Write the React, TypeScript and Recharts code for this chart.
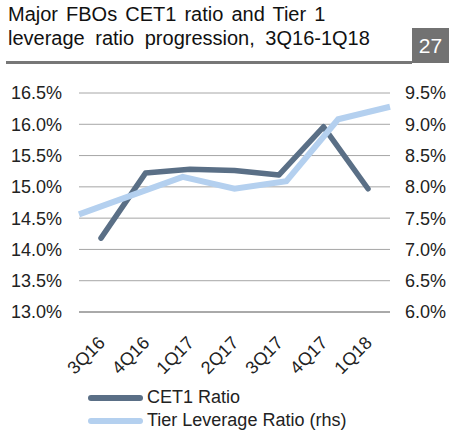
import React from 'react';
import { LineChart, Line, XAxis, YAxis, CartesianGrid } from 'recharts';

const categories = ['3Q16', '4Q16', '1Q17', '2Q17', '3Q17', '4Q17', '1Q18'];
const cet1Ratio = [14.18, 15.22, 15.28, 15.26, 15.19, 15.96, 14.97];
const tierLeverage = [7.56, 7.86, 8.16, 7.97, 8.09, 9.08, 9.28];
const leftTicks = [13, 13.5, 14, 14.5, 15, 15.5, 16, 16.5];
const rightTicks = [6, 6.5, 7, 7.5, 8, 8.5, 9, 9.5];
const seriesNames = ['CET1 Ratio', 'Tier Leverage Ratio (rhs)'];

const data = categories.map((c, i) => ({ cat: c, cet1: cet1Ratio[i], tier: tierLeverage[i] }));

const DARK = '#5a6f86';
const LIGHT = '#b4d0ef';
const seriesColors = [DARK, LIGHT];
const FONT = '"Liberation Sans", Arial, sans-serif';

const XTick = (props: any) => {
  const { x, y, payload } = props;
  const ax = x + 5;
  const ay = y + 24;
  return (
    <text
      x={ax}
      y={ay}
      transform={`rotate(-45 ${ax} ${ay})`}
      textAnchor="end"
      fontSize={18}
      fontFamily={FONT}
      fill="#222"
    >
      {payload.value}
    </text>
  );
};

export default function App() {
  return (
    <div style={{ position: 'absolute', left: 0, top: 0, width: 449, height: 432, background: '#fff', fontFamily: FONT }}>
      <div style={{ position: 'absolute', left: 8, top: 3, fontSize: 20, lineHeight: '23.5px', color: '#111', whiteSpace: 'nowrap' }}>
        <div style={{ wordSpacing: 2.5 }}>Major FBOs CET1 ratio and Tier 1</div>
        <div style={{ wordSpacing: 5 }}>leverage ratio progression, 3Q16-1Q18</div>
      </div>
      <div style={{ position: 'absolute', left: 6, top: 61, width: 406, height: 3, background: '#777' }} />
      <div
        style={{
          position: 'absolute', left: 412, top: 28, width: 37, height: 35, background: '#727272',
          color: '#fff', fontSize: 21, display: 'flex', alignItems: 'center', justifyContent: 'center',
        }}
      >
        27
      </div>
      <LineChart
        width={449}
        height={432}
        data={data}
        margin={{ top: 93, right: 0, bottom: 0, left: 0 }}
        style={{ position: 'absolute', left: 0, top: 0 }}
      >
        <CartesianGrid xAxisId="cat" yAxisId="left" vertical={false} stroke="#a6a6a6" />
        <XAxis
          xAxisId="cat"
          dataKey="cat"
          padding={{ left: 22, right: 22 }}
          tickLine={false}
          axisLine={{ stroke: '#808080' }}
          interval={0}
          tick={<XTick />}
          height={120}
        />
        <XAxis xAxisId="edge" dataKey="cat" hide />
        <YAxis
          yAxisId="left"
          orientation="left"
          width={79}
          domain={[13, 16.5]}
          ticks={leftTicks}
          tickFormatter={(v: number) => v.toFixed(1) + '%'}
          tickLine={false}
          axisLine={false}
          tickMargin={11}
          tick={{ fontSize: 18, fill: '#222', fontFamily: FONT }}
        />
        <YAxis
          yAxisId="right"
          orientation="right"
          width={59}
          domain={[6, 9.5]}
          ticks={rightTicks}
          tickFormatter={(v: number) => v.toFixed(1) + '%'}
          tickLine={false}
          axisLine={false}
          tickMargin={9}
          tick={{ fontSize: 18, fill: '#222', fontFamily: FONT, textAnchor: 'start' }}
        />
        <Line
          xAxisId="cat"
          yAxisId="left"
          dataKey="cet1"
          name={seriesNames[0]}
          stroke={DARK}
          strokeWidth={5.5}
          strokeLinecap="round"
          strokeLinejoin="round"
          dot={false}
          activeDot={false}
          isAnimationActive={false}
          type="linear"
        />
        <Line
          xAxisId="edge"
          yAxisId="right"
          dataKey="tier"
          name={seriesNames[1]}
          stroke={LIGHT}
          strokeWidth={6}
          strokeLinejoin="miter"
          dot={false}
          activeDot={false}
          isAnimationActive={false}
          type="linear"
        />
      </LineChart>
      <div style={{ position: 'absolute', left: 88, top: 386, fontSize: 18, color: '#222' }}>
        {seriesNames.map((n, i) => (
          <div key={n} style={{ display: 'flex', alignItems: 'center', height: 23 }}>
            <div style={{ width: 55, height: 6, borderRadius: 3, background: seriesColors[i], marginRight: 4 }} />
            <span>{n}</span>
          </div>
        ))}
      </div>
    </div>
  );
}
